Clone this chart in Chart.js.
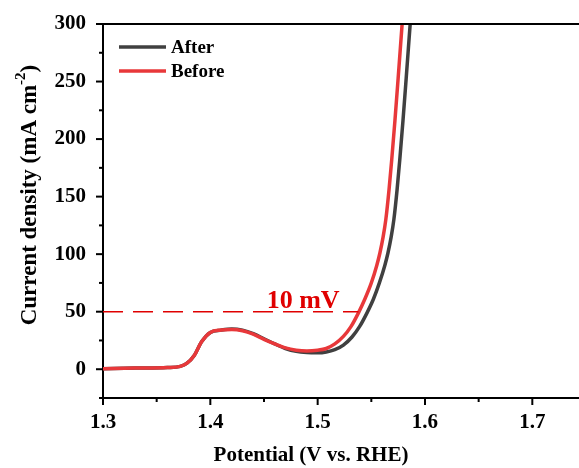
<!DOCTYPE html>
<html>
<head>
<meta charset="utf-8">
<script src="https://cdn.jsdelivr.net/npm/chart.js@4.4.0/dist/chart.umd.min.js"></script>
<style>
  body { margin: 0; background: #fff; }
  canvas { display: block; }
</style>
</head>
<body>
<canvas id="grafico" width="579" height="468"></canvas>
<script>
// Datos
var potAfter = [1.300, 1.330, 1.360, 1.372, 1.378, 1.385, 1.392, 1.400, 1.410, 1.420, 1.430, 1.440, 1.450, 1.460, 1.470, 1.480, 1.490, 1.500, 1.508, 1.516, 1.524, 1.532, 1.539, 1.546, 1.552, 1.5575, 1.5625, 1.5655, 1.5685, 1.571, 1.574, 1.5765, 1.5795, 1.5825, 1.5862, 1.589];
var jAfter   = [0.5, 1.0, 1.5, 2.5, 5, 12, 24, 32, 34, 35, 34, 31, 26.5, 22, 18, 15.5, 14.5, 14.3, 15, 17, 21, 28, 37, 49, 61, 75, 90, 101, 115, 130, 156, 182, 216, 253, 300, 335];

var potBefore = [1.300, 1.330, 1.360, 1.372, 1.378, 1.385, 1.392, 1.400, 1.410, 1.420, 1.430, 1.440, 1.450, 1.460, 1.470, 1.480, 1.490, 1.500, 1.508, 1.516, 1.524, 1.531, 1.538, 1.544, 1.550, 1.555, 1.558, 1.561, 1.5635, 1.5665, 1.569, 1.572, 1.575, 1.5787, 1.582];
var jBefore   = [0.5, 1.0, 1.5, 2.5, 5, 12, 24, 32, 34, 34.5, 33.5, 30.5, 26, 22, 18.5, 16.5, 15.8, 16.5, 18, 22, 28.5, 37, 49, 61, 75, 90, 101, 115, 130, 156, 182, 216, 253, 300, 340];

var lineaX = [1.3, 1.538];
var lineaY = [50, 50];

var ticksX = [1.3, 1.4, 1.5, 1.6, 1.7];
var menoresX = [1.35, 1.45, 1.55, 1.65];
var ticksY = [0, 50, 100, 150, 200, 250, 300];
var menoresY = [-25, 25, 75, 125, 175, 225, 275];

var etiquetas = ["After", "Before"];
var colores = ["#404040", "#e8383a"];

var fuente = "'Liberation Serif', 'Times New Roman', serif";

function puntos(xs, ys) {
    var res = [];
    for (var i = 0; i < xs.length; i++) {
        res.push({ x: xs[i], y: ys[i] });
    }
    return res;
}

// Plugin para marco, marcas, títulos y leyenda
var extras = {
    id: 'extras',
    afterDraw: function (chart) {
        var ctx = chart.ctx;
        var area = chart.chartArea;
        var sx = chart.scales.x;
        var sy = chart.scales.y;
        ctx.save();
        ctx.strokeStyle = "#000";
        ctx.lineWidth = 2;
        // línea superior
        ctx.beginPath();
        ctx.moveTo(area.left, area.top);
        ctx.lineTo(area.right, area.top);
        ctx.stroke();
        // marcas del eje x
        ticksX.forEach(function (v) {
            var px = sx.getPixelForValue(v);
            ctx.beginPath(); ctx.moveTo(px, area.bottom); ctx.lineTo(px, area.bottom + 7); ctx.stroke();
        });
        menoresX.forEach(function (v) {
            var px = sx.getPixelForValue(v);
            ctx.beginPath(); ctx.moveTo(px, area.bottom); ctx.lineTo(px, area.bottom + 4); ctx.stroke();
        });
        // marcas del eje y
        ticksY.forEach(function (v) {
            var py = sy.getPixelForValue(v);
            ctx.beginPath(); ctx.moveTo(area.left, py); ctx.lineTo(area.left - 7, py); ctx.stroke();
        });
        menoresY.forEach(function (v) {
            var py = sy.getPixelForValue(v);
            ctx.beginPath(); ctx.moveTo(area.left, py); ctx.lineTo(area.left - 4, py); ctx.stroke();
        });

        // texto 10 mV
        ctx.fillStyle = "#e00000";
        ctx.font = "bold 26px " + fuente;
        ctx.textAlign = "center";
        ctx.textBaseline = "alphabetic";
        ctx.fillText("10 mV", sx.getPixelForValue(1.4865), sy.getPixelForValue(50) - 4);

        // título eje x
        ctx.fillStyle = "#000";
        ctx.font = "bold 21px " + fuente;
        ctx.textBaseline = "middle";
        ctx.fillText("Potential (V vs. RHE)", 311, 456);

        // título eje y con superíndice
        ctx.translate(30, 195);
        ctx.rotate(-Math.PI / 2);
        var parte1 = "Current density (mA cm";
        var sup = "-2";
        var parte2 = ")";
        ctx.font = "bold 23px " + fuente;
        var w1 = ctx.measureText(parte1).width;
        var w3 = ctx.measureText(parte2).width;
        ctx.font = "bold 15px " + fuente;
        var w2 = ctx.measureText(sup).width;
        var total = w1 + w2 + w3;
        var x0 = -total / 2;
        ctx.textAlign = "left";
        ctx.font = "bold 23px " + fuente;
        ctx.fillText(parte1, x0, 0);
        ctx.font = "bold 15px " + fuente;
        ctx.fillText(sup, x0 + w1, -9);
        ctx.font = "bold 23px " + fuente;
        ctx.fillText(parte2, x0 + w1 + w2, 0);
        ctx.restore();

        // leyenda
        ctx.save();
        for (var i = 0; i < etiquetas.length; i++) {
            var y = 47 + i * 24;
            ctx.strokeStyle = colores[i];
            ctx.lineWidth = 3.5;
            ctx.beginPath();
            ctx.moveTo(119, y);
            ctx.lineTo(166, y);
            ctx.stroke();
            ctx.fillStyle = "#000";
            ctx.font = "bold 19px " + fuente;
            ctx.textAlign = "left";
            ctx.textBaseline = "middle";
            ctx.fillText(etiquetas[i], 171, y + 1);
        }
        ctx.restore();
    }
};

var datos = {
    datasets: [
        {
            label: "10 mV",
            data: puntos(lineaX, lineaY),
            borderColor: "#e00000",
            borderWidth: 1.5,
            borderDash: [20, 10],
            pointRadius: 0,
            order: 0
        },
        {
            label: etiquetas[1],
            data: puntos(potBefore, jBefore),
            borderColor: colores[1],
            borderWidth: 3.5,
            pointRadius: 0,
            cubicInterpolationMode: 'monotone',
            order: 1
        },
        {
            label: etiquetas[0],
            data: puntos(potAfter, jAfter),
            borderColor: colores[0],
            borderWidth: 3.5,
            pointRadius: 0,
            cubicInterpolationMode: 'monotone',
            order: 2
        }
    ]
};

var configuracion = {
    type: 'line',
    data: datos,
    plugins: [extras],
    options: {
        responsive: false,
        animation: false,
        layout: { padding: { top: 24, right: 0, left: 0, bottom: 0 } },
        plugins: {
            legend: { display: false },
            tooltip: { enabled: false }
        },
        scales: {
            x: {
                type: 'linear',
                min: 1.3,
                max: 1.7435,
                afterBuildTicks: function (scale) {
                    scale.ticks = ticksX.map(function (v) { return { value: v }; });
                },
                afterFit: function (scale) { scale.height = 70; },
                grid: { display: false },
                border: { display: true, color: "#000", width: 2 },
                ticks: {
                    padding: 4,
                    color: "#000",
                    font: { family: fuente, size: 21, weight: 'bold' },
                    maxRotation: 0,
                    callback: function (v) { return v.toFixed(1); }
                }
            },
            y: {
                min: -25,
                max: 300,
                afterBuildTicks: function (scale) {
                    scale.ticks = ticksY.map(function (v) { return { value: v }; });
                },
                afterFit: function (scale) { scale.width = 103; },
                grid: { display: false },
                border: { display: true, color: "#000", width: 2 },
                ticks: {
                    padding: 9,
                    color: "#000",
                    font: { family: fuente, size: 21, weight: 'bold' }
                }
            }
        }
    }
};

var contexto = document.getElementById('grafico').getContext('2d');
var miGrafico = new Chart(contexto, configuracion);
</script>
</body>
</html>
